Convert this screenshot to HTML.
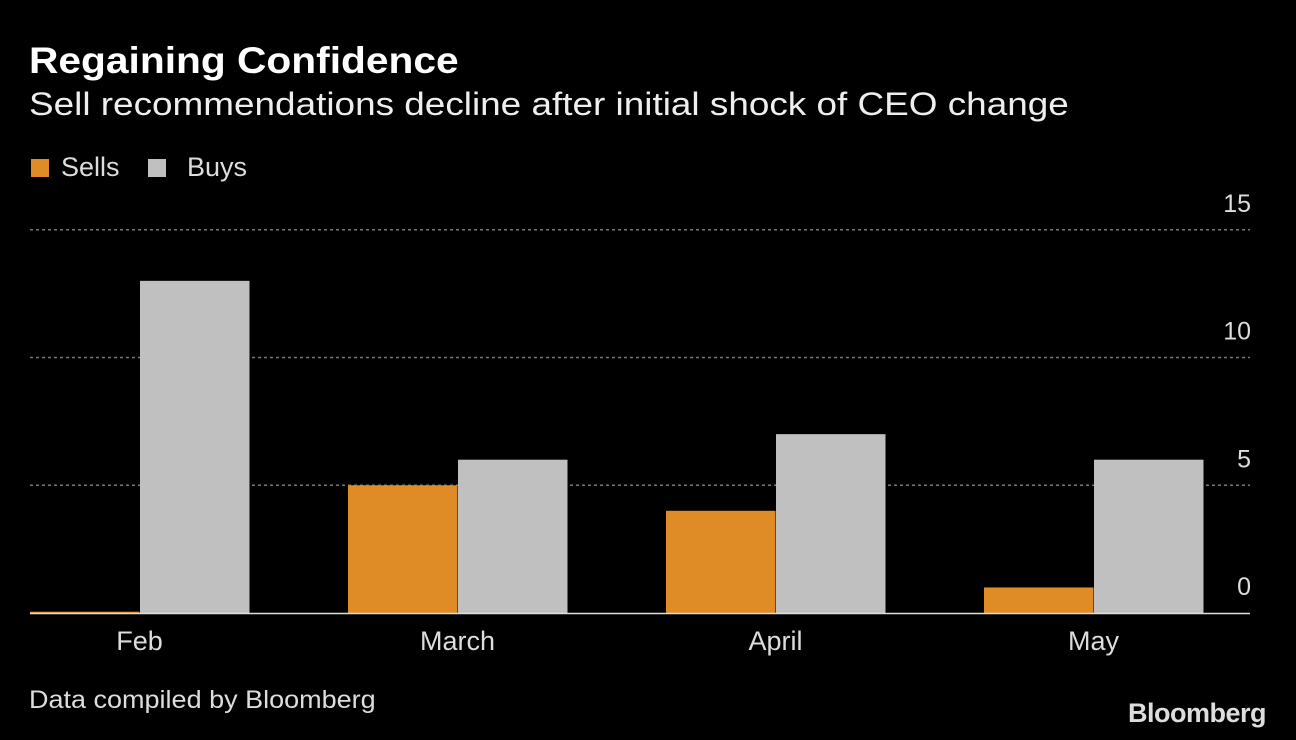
<!DOCTYPE html>
<html><head><meta charset="utf-8"><style>
html,body{margin:0;padding:0;background:#000;}
body{width:1296px;height:740px;overflow:hidden;font-family:"Liberation Sans",sans-serif;color:#fff;position:relative;}
.t{position:absolute;white-space:nowrap;transform-origin:left center;}
</style></head><body>
<div class="t" style="left:29px;top:40px;font-size:37px;font-weight:bold;transform:scaleX(1.10);">Regaining Confidence</div>
<div class="t" style="left:29px;top:86px;font-size:32px;color:#eee;transform:scaleX(1.153);">Sell recommendations decline after initial shock of CEO change</div>
<div class="t" style="left:31px;top:152px;font-size:27px;color:#ddd;"><span style="display:inline-block;width:18px;height:18px;background:#e08c26;margin-right:12px;vertical-align:-1px"></span>Sells</div>
<div class="t" style="left:148px;top:152px;font-size:27px;color:#ddd;"><span style="display:inline-block;width:18px;height:18px;background:#c0c0c0;margin-right:21px;vertical-align:-1px"></span>Buys</div>
<svg id="chart" width="1296" height="740" style="position:absolute;left:0;top:0"></svg>
<div class="t" style="left:29px;top:686px;font-size:25px;color:#ddd;transform:scaleX(1.08);">Data compiled by Bloomberg</div>
<div class="t" style="left:1128px;top:698px;font-size:27px;font-weight:bold;color:#ddd;letter-spacing:-0.5px;">Bloomberg</div>
<script>
const categories=["Feb","March","April","May"];
const sells=[0.05,5,4,1];
const buys=[13,6,7,6];
const ticks=[0,5,10,15];
const svg=document.getElementById('chart');
const NS='http://www.w3.org/2000/svg';
const y0=613, pxPer=25.55;
function y(v){return y0-v*pxPer;}
function xc(i){return 139.5+i*318;}
const bw=109.5;
function mk(tag,attrs){const e=document.createElementNS(NS,tag);for(const k in attrs)e.setAttribute(k,attrs[k]);svg.appendChild(e);return e;}
ticks.forEach(t=>{
  if(t>0){const l=mk('line',{x1:30,x2:1250,y1:y(t),y2:y(t),stroke:'#777','stroke-width':1.5,'stroke-dasharray':'3,3'});
  
  }
  const tx=mk('text',{x:1251,y:y(t)-18,'text-anchor':'end','font-size':25,fill:'#ddd','font-family':'Liberation Sans, sans-serif'});
  tx.textContent=t;
  
  
});
categories.forEach((c,i)=>{
  const s=mk('rect',{x:xc(i)-bw,y:y(sells[i]),width:bw,height:y0-y(sells[i]),fill:'#e08c26'});
  
  
  const b=mk('rect',{x:xc(i)+0.5,y:y(buys[i]),width:bw,height:y0-y(buys[i]),fill:'#c0c0c0'});
  
  
  const tx=mk('text',{x:xc(i),y:650,'text-anchor':'middle','font-size':27,fill:'#ddd','font-family':'Liberation Sans, sans-serif'});
  tx.textContent=c;
  
  
});
const base=mk('line',{x1:30,x2:1250,y1:y0+0.5,y2:y0+0.5,stroke:'#ddd','stroke-width':1.5});


</script>
</body></html>
